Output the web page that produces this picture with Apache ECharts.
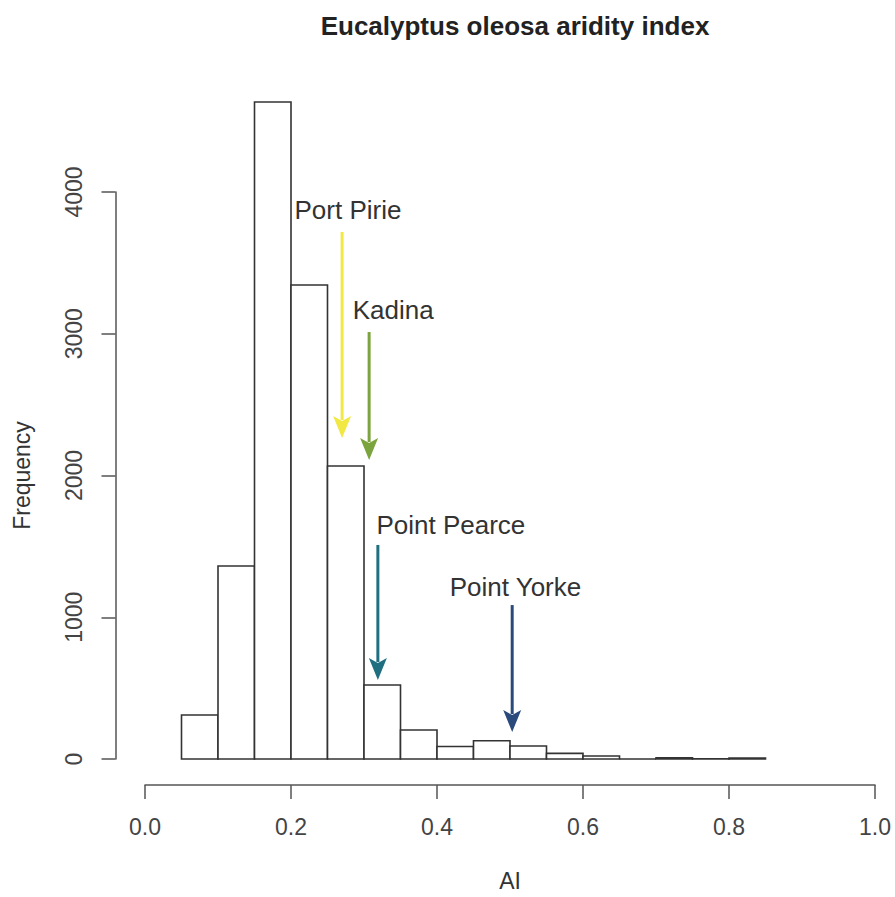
<!DOCTYPE html>
<html>
<head>
<meta charset="utf-8">
<script src="https://cdn.jsdelivr.net/npm/echarts@6/dist/echarts.min.js"></script>
<style>
  html, body { margin: 0; background: #fff; }
  #chart { width: 895px; height: 897px; }
</style>
</head>
<body>
<div id="chart"></div>
<script>
// histogram bins (AI) and counts
const binStarts = [0.05, 0.10, 0.15, 0.20, 0.25, 0.30, 0.35, 0.40, 0.45, 0.50, 0.55, 0.60, 0.65, 0.70, 0.75, 0.80];
const binEnds   = [0.10, 0.15, 0.20, 0.25, 0.30, 0.35, 0.40, 0.45, 0.50, 0.55, 0.60, 0.65, 0.70, 0.75, 0.80, 0.85];
const counts    = [310, 1362, 4635, 3344, 2067, 522, 205, 88, 129, 92, 40, 21, 0, 8, 2, 7];

// tick labels
const xTickLabels = ["0.0", "0.2", "0.4", "0.6", "0.8", "1.0"];
const yTickLabels = ["0", "1000", "2000", "3000", "4000"];

// site arrows
const siteNames  = ["Port Pirie", "Kadina", "Point Pearce", "Point Yorke"];
const siteAI     = [0.270, 0.307, 0.319, 0.503];
const arrowFrom  = [3718, 3012, 1510, 1086];
const arrowTo    = [2265, 2109, 557, 190];
const labelAI    = [0.278, 0.340, 0.419, 0.5075];
const labelFreq  = [3873, 3168, 1651, 1213];
const siteColors = ["#f2e844", "#7ba43e", "#1f6f80", "#2b4a7c"];

const FONT = '"Liberation Sans", Arial, Helvetica, sans-serif';

const chart = echarts.init(document.getElementById("chart"), null, { renderer: "svg" });

const barData = binStarts.map((s, i) => [s, binEnds[i], counts[i]]);
const arrowData = siteNames.map((n, i) => [siteAI[i], arrowFrom[i], arrowTo[i], labelAI[i], labelFreq[i]]);

const option = {
  backgroundColor: "#fff",
  animation: false,
  title: {
    text: "Eucalyptus oleosa aridity index",
    left: 510,
    top: 8,
    textAlign: "center",
    textStyle: { fontFamily: FONT, fontSize: 26, fontWeight: "bold", color: "#222" },
  },
  grid: { left: 145, right: 20, top: 192, bottom: 138 },
  xAxis: {
    type: "value",
    min: 0,
    max: 1,
    interval: 0.2,
    offset: 26,
    name: "AI",
    nameLocation: "middle",
    nameGap: 84,
    nameTextStyle: { fontFamily: FONT, fontSize: 23, color: "#333" },
    axisLine: { onZero: false, lineStyle: { color: "#555", width: 1.5 } },
    axisTick: { length: 14, lineStyle: { color: "#555", width: 1.5 } },
    axisLabel: {
      margin: 30,
      fontFamily: FONT,
      fontSize: 23,
      color: "#444",
      formatter: (v, i) => xTickLabels[i],
    },
    splitLine: { show: false },
  },
  yAxis: {
    type: "value",
    min: 0,
    max: 4000,
    interval: 1000,
    offset: 29.5,
    name: "Frequency",
    nameLocation: "middle",
    nameGap: 82,
    nameTextStyle: { fontFamily: FONT, fontSize: 23, color: "#333" },
    axisLine: { show: true, onZero: false, lineStyle: { color: "#555", width: 1.5 } },
    axisTick: { show: true, length: 14, lineStyle: { color: "#555", width: 1.5 } },
    axisLabel: {
      rotate: 90,
      margin: 30,
      fontFamily: FONT,
      fontSize: 23,
      color: "#444",
      formatter: (v, i) => yTickLabels[i],
    },
    splitLine: { show: false },
  },
  series: [
    {
      type: "custom",
      clip: false,
      encode: { x: [0, 1], y: 2 },
      data: barData,
      renderItem: (params, api) => {
        const p0 = api.coord([api.value(0), api.value(2)]);
        const p1 = api.coord([api.value(1), 0]);
        return {
          type: "rect",
          shape: { x: p0[0], y: p0[1], width: p1[0] - p0[0], height: p1[1] - p0[1] },
          style: { fill: "#fff", stroke: "#333", lineWidth: 1.6 },
        };
      },
      z: 2,
    },
    {
      type: "custom",
      clip: false,
      encode: { x: 0, y: [1, 2] },
      data: arrowData,
      renderItem: (params, api) => {
        const i = params.dataIndex;
        const color = siteColors[i];
        const top = api.coord([api.value(0), api.value(1)]);
        const tip = api.coord([api.value(0), api.value(2)]);
        const lab = api.coord([api.value(3), api.value(4)]);
        const headLen = 22, headHalf = 9;
        return {
          type: "group",
          children: [
            {
              type: "line",
              shape: { x1: top[0], y1: top[1], x2: tip[0], y2: tip[1] - headLen + 4 },
              style: { stroke: color, lineWidth: 3 },
            },
            {
              type: "polygon",
              shape: {
                points: [
                  [tip[0], tip[1]],
                  [tip[0] - headHalf, tip[1] - headLen],
                  [tip[0], tip[1] - headLen + 5],
                  [tip[0] + headHalf, tip[1] - headLen],
                ],
              },
              style: { fill: color },
            },
            {
              type: "text",
              x: lab[0],
              y: lab[1],
              style: {
                text: siteNames[i],
                font: "26px " + FONT,
                fill: "#333",
                align: "center",
                verticalAlign: "middle",
              },
            },
          ],
        };
      },
      z: 3,
    },
  ],
};

chart.setOption(option);
</script>
</body>
</html>
